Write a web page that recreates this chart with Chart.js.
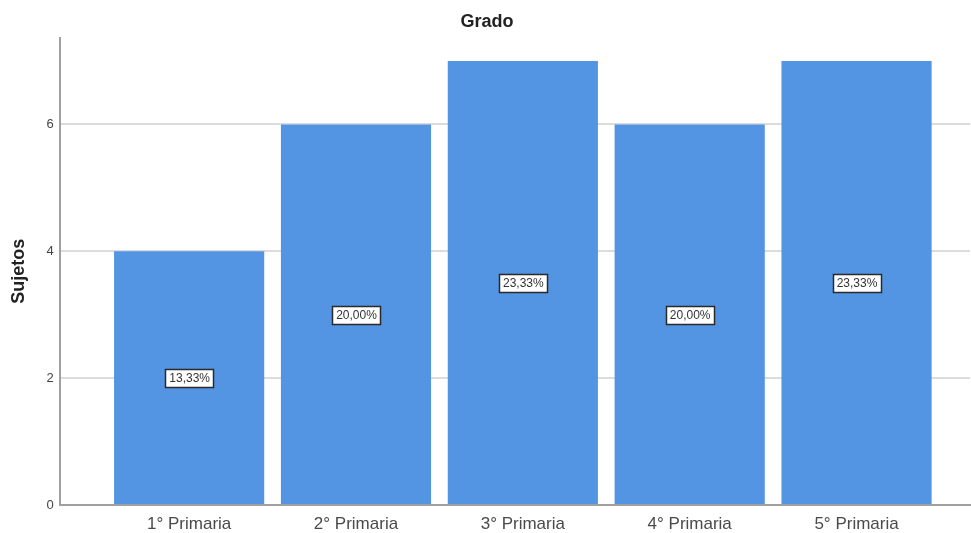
<!DOCTYPE html>
<html>
<head>
<meta charset="utf-8">
<script src="https://cdn.jsdelivr.net/npm/chart.js@4"></script>
<style>
  html, body { margin: 0; padding: 0; background: #fff; }
  #wrap { width: 971px; height: 533px; }
</style>
</head>
<body>
<div id="wrap"><canvas id="chart" width="971" height="533"></canvas></div>
<script>
const grados = ["1° Primaria", "2° Primaria", "3° Primaria", "4° Primaria", "5° Primaria"];
const sujetos = [4, 6, 7, 6, 7];
const yTicks = [0, 2, 4, 6];

const total = sujetos.reduce((a, b) => a + b, 0);
const FONT = "'Liberation Sans', Arial, sans-serif";

// bars sit on a linear x axis so the plot can keep the wide margins on both sides
const points = sujetos.map((v, i) => ({ x: i, y: v }));

// percentage box drawn in the middle of every bar
const pctLabels = {
  id: "pctLabels",
  afterDatasetsDraw(chart) {
    const ctx = chart.ctx;
    const meta = chart.getDatasetMeta(0);
    const yScale = chart.scales.y;
    ctx.save();
    ctx.font = "12px " + FONT;
    ctx.textAlign = "center";
    ctx.textBaseline = "middle";
    meta.data.forEach((bar, i) => {
      const v = sujetos[i];
      const txt = (v / total * 100).toFixed(2).replace(".", ",") + "%";
      const cy = yScale.getPixelForValue(v / 2);
      const w = Math.round(ctx.measureText(txt).width + 7);
      const h = 18;
      const x0 = Math.round(bar.x - w / 2);
      const y0 = Math.round(cy - h / 2);
      ctx.fillStyle = "#ffffff";
      ctx.fillRect(x0, y0, w, h);
      ctx.strokeStyle = "#2a2a2a";
      ctx.lineWidth = 1.5;
      ctx.strokeRect(x0 + 0.5, y0 + 0.5, w, h);
      ctx.fillStyle = "#333333";
      ctx.fillText(txt, bar.x + 0.5, cy + 1);
    });
    ctx.restore();
  }
};

new Chart(document.getElementById("chart"), {
  type: "bar",
  data: {
    datasets: [{
      label: "Sujetos",
      data: points,
      backgroundColor: "#5394E3",
      borderWidth: 0,
      barPercentage: 0.9,
      categoryPercentage: 1
    }]
  },
  plugins: [pctLabels],
  options: {
    responsive: false,
    animation: false,
    layout: { padding: { top: 0, right: 1, left: 4, bottom: -11 } },
    plugins: {
      legend: { display: false },
      tooltip: { enabled: false },
      title: {
        display: true,
        text: "Grado",
        color: "#222",
        font: { family: FONT, size: 18, weight: "bold" },
        padding: { top: 11, bottom: 5 }
      }
    },
    scales: {
      x: {
        type: "linear",
        min: -0.775,
        max: 4.68,
        offset: false,
        afterBuildTicks(scale) {
          scale.ticks = grados.map((g, i) => ({ value: i }));
        },
        ticks: {
          autoSkip: false,
          maxRotation: 0,
          color: "#4a4a4a",
          padding: 11,
          font: { family: FONT, size: 17, lineHeight: 1 },
          callback: (v) => grados[v]
        },
        grid: { display: false, drawTicks: false },
        border: { display: true, color: "#a0a0a0", width: 2 }
      },
      y: {
        min: 0,
        max: 7.37,
        afterBuildTicks(scale) {
          scale.ticks = yTicks.map((v) => ({ value: v }));
        },
        ticks: {
          color: "#444",
          padding: 6,
          font: { family: FONT, size: 13 }
        },
        grid: { color: "#dcdcdc", lineWidth: 2, drawTicks: false },
        border: { display: true, color: "#a0a0a0", width: 2 },
        title: {
          display: true,
          text: "Sujetos",
          color: "#222",
          padding: { top: 4, bottom: 11 },
          font: { family: FONT, size: 18, weight: "bold" }
        }
      }
    }
  }
});
</script>
</body>
</html>
